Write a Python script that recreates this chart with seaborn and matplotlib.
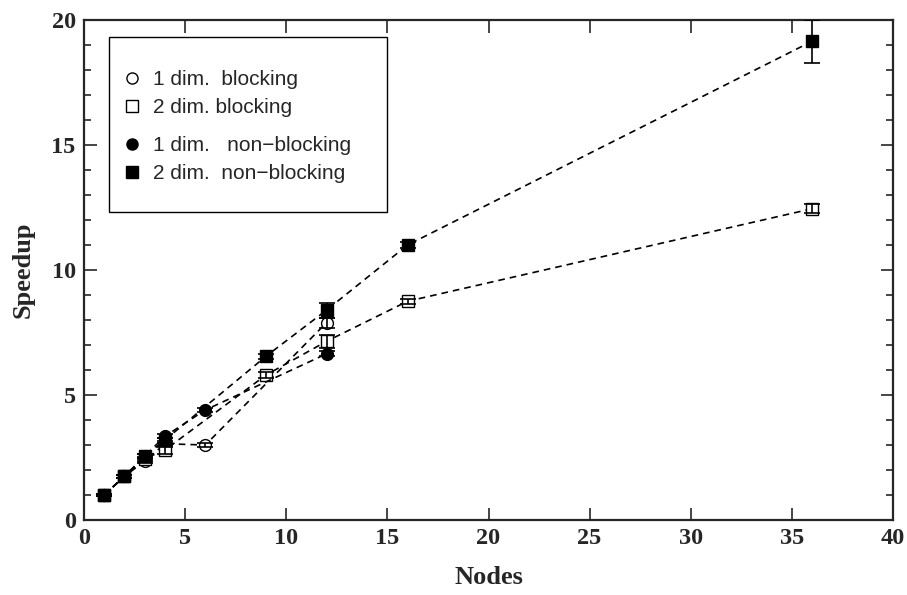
import matplotlib
matplotlib.use("Agg")
import matplotlib.pyplot as plt
import seaborn as sns
from matplotlib.lines import Line2D
from matplotlib.patches import Rectangle
from matplotlib.ticker import MultipleLocator

nodes_2d = [1, 2, 3, 4, 9, 12, 16, 36]
nodes_1d = [1, 2, 3, 4, 6, 12]

speedup_2d_nb = [1.0, 1.75, 2.55, 3.2, 6.55, 8.4, 11.0, 19.15]
err_2d_nb = [0.05, 0.05, 0.08, 0.1, 0.1, 0.3, 0.12, 0.85]

speedup_2d_b = [1.0, 1.75, 2.45, 2.8, 5.8, 7.15, 8.75, 12.45]
err_2d_b = [0.05, 0.05, 0.08, 0.15, 0.12, 0.25, 0.1, 0.18]

speedup_1d_nb = [1.0, 1.75, 2.55, 3.35, 4.4, 6.65]
err_1d_nb = [0.05, 0.05, 0.08, 0.08, 0.08, 0.1]

speedup_1d_b = [1.0, 1.75, 2.35, 3.05, 3.0, 7.9]
err_1d_b = [0.05, 0.05, 0.08, 0.12, 0.08, 0.2]

labels = ["1 dim.  blocking", "2 dim. blocking",
          "1 dim.   non\u2212blocking", "2 dim.  non\u2212blocking"]

sns.set_style("ticks")
plt.rcParams["font.family"] = ["Liberation Serif", "DejaVu Serif"]

fig = plt.figure(figsize=(9.07, 5.95), dpi=100)
ax = fig.add_axes([84 / 907, 1 - 520 / 595, 809 / 907, 500 / 595])

series = [
    (nodes_1d, speedup_1d_b, err_1d_b, "o", "white"),
    (nodes_2d, speedup_2d_b, err_2d_b, "s", "white"),
    (nodes_1d, speedup_1d_nb, err_1d_nb, "o", "black"),
    (nodes_2d, speedup_2d_nb, err_2d_nb, "s", "black"),
]

for xs, ys, es, mk, fc in series:
    sns.lineplot(x=xs, y=ys, ax=ax, color="black", linewidth=1.2,
                 linestyle=(0, (4, 3)), marker=mk, markersize=8.5,
                 markerfacecolor=fc, markeredgecolor="black",
                 markeredgewidth=1.0, zorder=3)
    ax.errorbar(xs, ys, yerr=es, fmt="none", ecolor="black",
                elinewidth=1.2, capsize=5.5, capthick=1.2, zorder=4)

ax.set_xlim(0, 40)
ax.set_ylim(0, 20)
ax.xaxis.set_major_locator(MultipleLocator(5))
ax.yaxis.set_major_locator(MultipleLocator(5))
ax.yaxis.set_minor_locator(MultipleLocator(1))
ax.tick_params(which="both", direction="in", top=True, right=True,
               width=1.2)
ax.tick_params(which="major", length=9, labelsize=17.5, pad=6)
ax.tick_params(which="minor", length=5)
for lab in ax.get_xticklabels() + ax.get_yticklabels():
    lab.set_fontweight("bold")
for sp in ax.spines.values():
    sp.set_linewidth(1.6)

ax.set_xlabel("Nodes", fontsize=19, fontweight="bold", labelpad=12)
ax.set_ylabel("Speedup", fontsize=19, fontweight="bold", labelpad=12)

# legend: a framed box holding two groups of entries
ax.add_patch(Rectangle((0.0309, 0.616), 0.3436, 0.35, transform=ax.transAxes,
                       facecolor="white", edgecolor="black", linewidth=1.0,
                       zorder=5))


def handle(mk, fc):
    return Line2D([], [], linestyle="none", marker=mk, markersize=8,
                  markerfacecolor=fc, markeredgecolor="black",
                  markeredgewidth=1.0)


leg_font = {"family": "Liberation Sans", "size": 15}
leg1 = ax.legend([handle("o", "white"), handle("s", "white")], labels[:2],
                 loc="upper left", bbox_to_anchor=(0.0494, 0.90),
                 frameon=False, prop=leg_font, handlelength=0.8,
                 handletextpad=0.6, borderpad=0, borderaxespad=0,
                 labelspacing=0.45)
leg1.set_zorder(6)
ax.add_artist(leg1)
leg2 = ax.legend([handle("o", "black"), handle("s", "black")], labels[2:],
                 loc="upper left", bbox_to_anchor=(0.0494, 0.768),
                 frameon=False, prop=leg_font, handlelength=0.8,
                 handletextpad=0.6, borderpad=0, borderaxespad=0,
                 labelspacing=0.45)
leg2.set_zorder(6)

fig.savefig("out.png", dpi=100)
